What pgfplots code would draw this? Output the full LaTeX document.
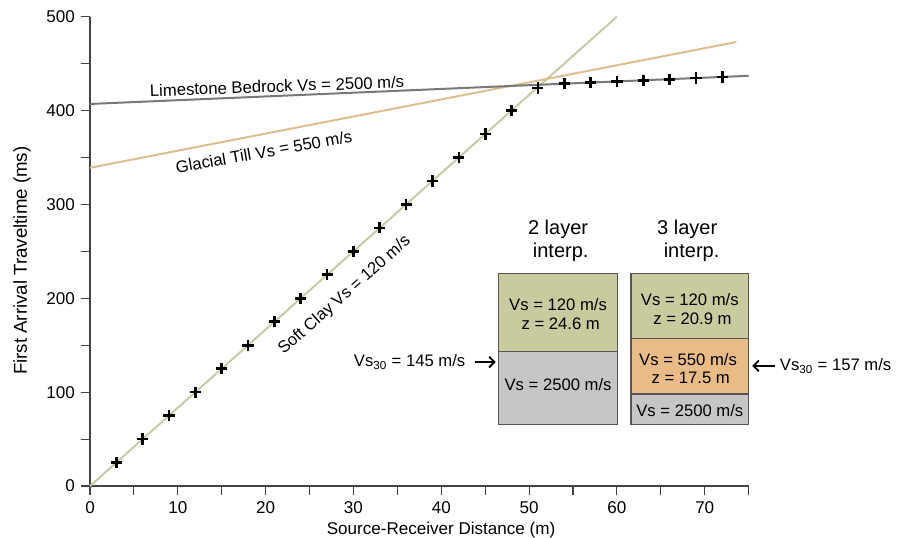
\documentclass[border=0pt]{standalone}
\usepackage{pgfplots}
\pgfplotsset{compat=1.18}
\usetikzlibrary{arrows.meta}
\usepackage{fontspec}
\setmainfont{Liberation Sans}
\usepackage{graphicx}
\definecolor{clayline}{HTML}{C6CBA6}
\definecolor{tillline}{HTML}{DDBE8E}
\definecolor{rockline}{HTML}{787878}
\definecolor{boxgreen}{HTML}{C9CB9E}
\definecolor{boxorange}{HTML}{E8BB87}
\definecolor{boxgray}{HTML}{C6C6C6}
\definecolor{boxedge}{HTML}{555555}
\definecolor{axcol}{HTML}{444444}
\begin{document}
\fontsize{12.5}{15}\selectfont
\begin{tikzpicture}
\useasboundingbox (-67.5pt,-39pt) rectangle (608.25pt,364.5pt);
\begin{axis}[at={(0,0)}, anchor=south west, scale only axis,
  width=494pt, height=352pt,
  xmin=0, xmax=75, ymin=0, ymax=500,
  axis lines*=left, clip=false,
  axis line style={axcol, line width=0.8pt},
  every tick/.style={axcol, line width=0.8pt},
  tick align=outside, major tick length=7pt, minor tick length=7pt,
  xtick={0,10,...,70}, minor xtick={5,15,...,75},
  ytick={0,100,...,500}, minor ytick={50,150,...,450},
  /pgf/number format/assume math mode=true,
  tick label style={font=\fontsize{12.8}{15}\selectfont},
  xlabel={Source-Receiver Distance (m)},
  ylabel={First Arrival Traveltime (ms)},
  x label style={at={(axis description cs:0.533,-0.093)}, anchor=center, font=\fontsize{12.8}{15}\selectfont},
  y label style={at={(axis description cs:-0.103,0.48)}, anchor=center, rotate=0, font=\fontsize{14}{16}\selectfont},
]
\addplot[clayline, line width=1.5pt] coordinates {(0,0) (60,500)};
\addplot[tillline, line width=1.5pt] coordinates {(0,339) (73.6,473)};
\addplot[rockline, line width=1.5pt] coordinates {(0,407) (75,437)};
\addplot[only marks, mark=+, mark size=4.2pt, black, mark options={line width=2pt}] coordinates {
(3,25) (6,50) (9,75) (12,100) (15,125) (18,150) (21,175) (24,200) (27,225)
(30,250) (33,275) (36,300) (39,325) (42,350) (45,375) (48,400) (51,424)
(54,428.6) (57,429.8) (60,431) (63,432.2) (66,433.4) (69,434.6) (72,435.8)};

\node[rotate=2] at (axis cs:21.3,426) {Limestone Bedrock Vs = 2500 m/s};
\node[rotate=10] at (axis cs:19.8,356) {Glacial Till Vs = 550 m/s};
\node[rotate=41.5] at (axis cs:29.0,203) {Soft Clay Vs = 120 m/s};

% 2 layer box
\draw[boxedge, line width=0.8pt, fill=boxgreen] (axis cs:46.5,143) rectangle (axis cs:60.1,226);
\draw[boxedge, line width=0.8pt, fill=boxgray] (axis cs:46.5,66) rectangle (axis cs:60.1,143);
% 3 layer box
\draw[boxedge, line width=0.8pt, fill=boxgreen] (axis cs:61.6,156.7) rectangle (axis cs:75,226);
\draw[boxedge, line width=0.8pt, fill=boxorange] (axis cs:61.6,98) rectangle (axis cs:75,156.7);
\draw[boxedge, line width=0.8pt, fill=boxgray] (axis cs:61.6,66) rectangle (axis cs:75,98);

\node[font=\fontsize{15}{18}\selectfont] at (axis cs:53.3,273) {2 layer};
\node[font=\fontsize{15}{18}\selectfont] at (axis cs:53.6,249) {interp.};
\node[font=\fontsize{15}{18}\selectfont] at (axis cs:68,273) {3 layer};
\node[font=\fontsize{15}{18}\selectfont] at (axis cs:68.5,249) {interp.};

\node at (axis cs:53.3,193) {Vs = 120 m/s};
\node at (axis cs:53.6,173) {z = 24.6 m};
\node at (axis cs:53.3,108) {Vs = 2500 m/s};
\node at (axis cs:68.3,199) {Vs = 120 m/s};
\node at (axis cs:68.6,178) {z = 20.9 m};
\node at (axis cs:68.1,135) {Vs = 550 m/s};
\node at (axis cs:68.4,115) {z = 17.5 m};
\node at (axis cs:68.3,80) {Vs = 2500 m/s};

\draw[-{Straight Barb[length=4pt,width=8pt]}, line width=1.4pt, black] (axis cs:43.8,132) -- (axis cs:46.2,132);
\node[anchor=east] at (axis cs:43.4,132) {Vs\textsubscript{30} = 145 m/s};
\draw[-{Straight Barb[length=4pt,width=8pt]}, line width=1.4pt, black] (axis cs:78.0,128) -- (axis cs:75.4,128);
\node[anchor=west] at (axis cs:77.9,128) {Vs\textsubscript{30} = 157 m/s};
\end{axis}
\end{tikzpicture}
\end{document}
